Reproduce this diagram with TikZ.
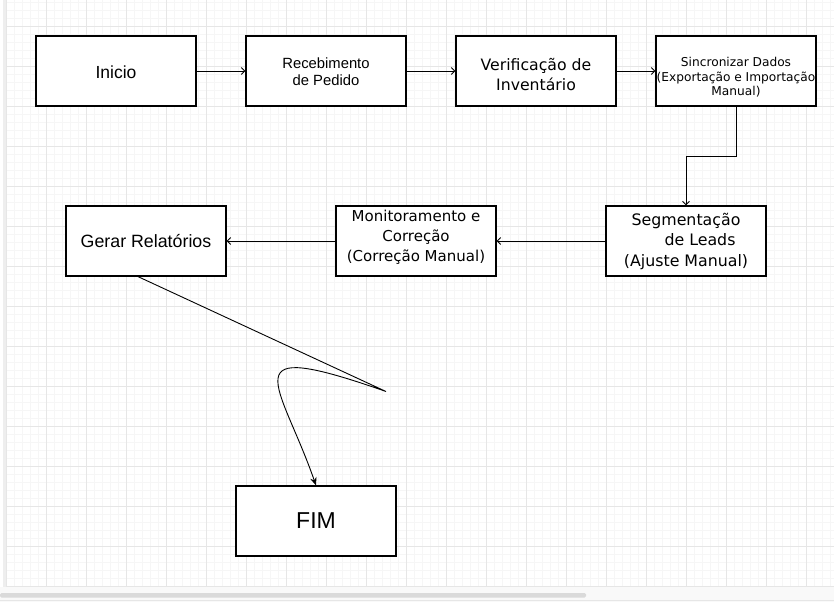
\documentclass[tikz,border=0pt]{standalone}
\usepackage{fontspec}
\setmainfont{Liberation Sans}
\newfontfamily\dv{DejaVu Sans}
\usetikzlibrary{arrows.meta}
\definecolor{gmajor}{HTML}{E6E6E6}
\definecolor{gminor}{HTML}{F6F6F6}
\definecolor{sbar}{HTML}{DADADA}
\definecolor{bottomfill}{HTML}{F9F9F9}
\definecolor{leftstrip}{HTML}{EEEEEE}
\begin{document}
\begin{tikzpicture}[x=1pt,y=-1pt,
  box/.style={draw=black,line width=1.2pt,fill=white,minimum width=160pt,minimum height=70pt,inner sep=0pt},
  txt/.style={align=center,inner sep=0pt,text=black},
  arr/.style={draw=black,line width=0.9pt,-{Straight Barb[length=3.5pt,width=7pt]}},
  arrf/.style={draw=black,line width=0.9pt,-{Stealth[length=8pt,width=6.5pt]}}]
\useasboundingbox (0,0) rectangle (834,602);
\fill[white] (0,0) rectangle (834,602);
% grid
\foreach \i in {0,...,103} \draw[gminor,line width=0.7pt] ({6.7+8*\i},0) -- ({6.7+8*\i},586.7);
\foreach \j in {0,...,73} \draw[gminor,line width=0.7pt] (6.7,{2.7+8*\j}) -- (834,{2.7+8*\j});
\foreach \i in {0,...,20} \draw[gmajor,line width=0.8pt] ({6.7+40*\i},0) -- ({6.7+40*\i},586.7);
\foreach \j in {0,...,14} \draw[gmajor,line width=0.8pt] (6.7,{26.7+40*\j}) -- (834,{26.7+40*\j});
% frame bits
\fill[bottomfill] (0,587.3) rectangle (834,602);
\fill[leftstrip] (3,0) rectangle (6.2,587.3);
\fill[sbar,rounded corners=1.5pt] (0,593) rectangle (586,597.5);
\draw[gmajor,line width=0.8pt] (0,600) -- (834,600);
% boxes
\node[box] (inicio) at (116,71) {};
\node[box] (receb) at (326,71) {};
\node[box] (verif) at (536,71) {};
\node[box] (sinc) at (736,71) {};
\node[box] (seg) at (686,241) {};
\node[box] (mon) at (416,241) {};
\node[box] (ger) at (146,241) {};
\node[box] (fim) at (316,521) {};
% texts
\node[txt,font=\fontsize{17.5}{21}\selectfont] (inicio-t) at ([yshift=-1pt]inicio.center) {Inicio};
\node[txt,font=\fontsize{14.8}{17}\selectfont] (receb-t) at ([yshift=-0.5pt]receb.center) {Recebimento\\de Pedido};
\node[txt,font=\dv\fontsize{15.7}{20}\selectfont] (verif-t) at ([yshift=-4pt]verif.center) {Verificação de\\Inventário};
\node[txt,font=\dv\fontsize{12.2}{14.4}\selectfont] (sinc-t) at ([yshift=-6.5pt]sinc.center) {Sincronizar Dados\\(Exportação e Importação\\Manual)};
\node[txt,font=\dv\fontsize{15.8}{20.5}\selectfont] (seg-t) at ([yshift=-0.5pt]seg.center) {Segmentação\\\hspace{28pt}de Leads\\(Ajuste Manual)};
\node[txt,font=\dv\fontsize{15}{20}\selectfont] (mon-t) at ([yshift=4pt]mon.center) {Monitoramento e\\Correção\\(Correção Manual)};
\node[txt,font=\fontsize{17.8}{21}\selectfont] (ger-t) at (ger.center) {Gerar Relatórios};
\node[txt,font=\fontsize{23}{27}\selectfont] (fim-t) at (fim.center) {FIM};
% connectors
\draw[arr] (inicio) -- (receb);
\draw[arr] (receb) -- (verif);
\draw[arr] (verif) -- (sinc);
\draw[arr] (sinc.south) -- ++(0,50) -| (seg.north);
\draw[arr] (seg) -- (mon);
\draw[arr] (mon) -- (ger);
\coordinate (tip) at (386,391.5);
\draw[arrf] ([xshift=-8pt]ger.south) -- (tip) .. controls (228,336) and (280,382) .. (fim.north);
\end{tikzpicture}
\end{document}
